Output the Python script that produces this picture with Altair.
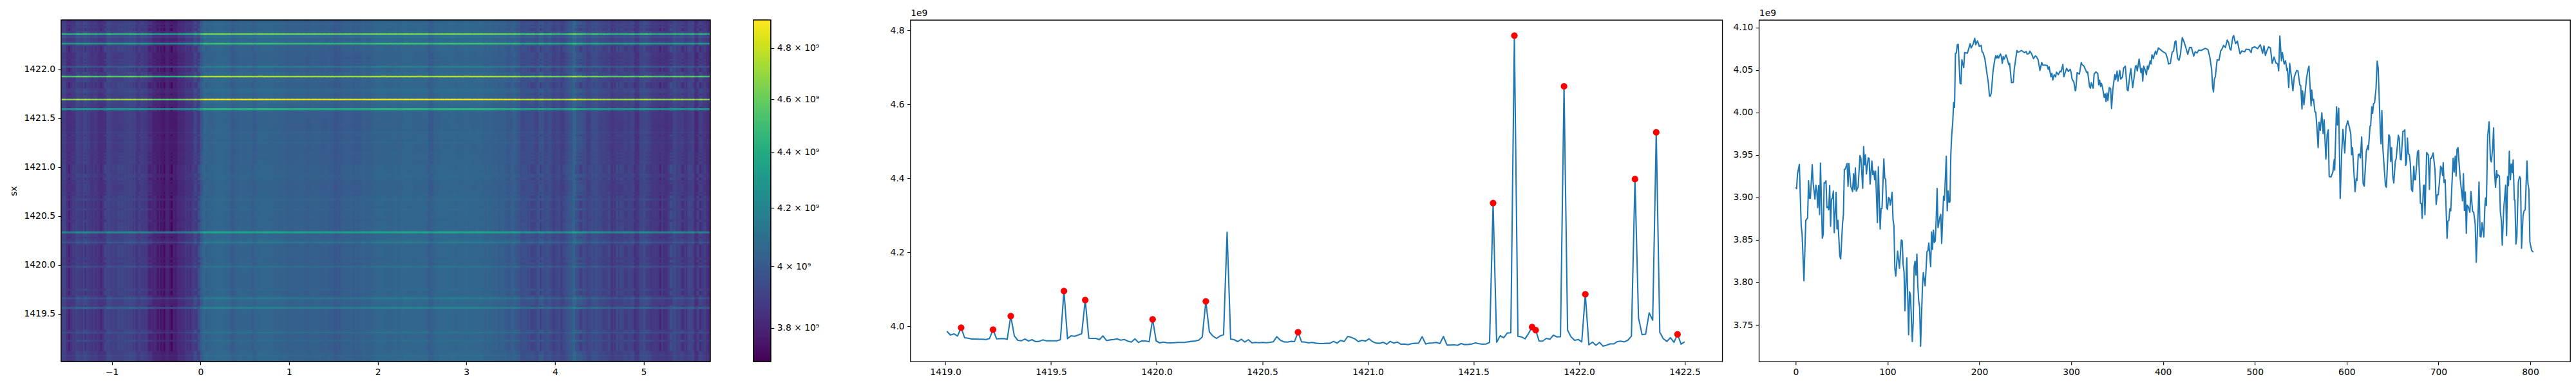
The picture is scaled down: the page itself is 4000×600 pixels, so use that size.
import altair as alt
import numpy as np
import pandas as pd

alt.data_transformers.disable_max_rows()

FONT = "DejaVu Sans"
FS = 13.9

# mean profile against column index (third panel), values in units of 1e9
column_profile = [
(0,3.912),(1,3.9105),(2,3.928),(4,3.939),(6,3.8666),(7,3.8565),(9,3.802),(11,3.873),(13,3.876),(14,3.9196),(15,3.899),(16,3.899),(18,3.9385),(19,3.917),(21,3.898),(22,3.9145),(23,3.908),(24,3.888),(25,3.914),(26,3.880),(27,3.9405),(29,3.852),(30,3.8565),(31,3.9175),(32,3.917),(33,3.9196),(34,3.888),(35,3.889),(36,3.8855),(37,3.914),(38,3.866),(39,3.898),(40,3.899),(41,3.9075),(42,3.8585),(44,3.906),(45,3.863),(46,3.873),(48,3.831),(49,3.8277),(51,3.869),(52,3.880),(53,3.933),(54,3.9335),(56,3.940),(57,3.913),(58,3.940),(60,3.913),(62,3.907),(63,3.928),(64,3.9095),(65,3.9347),(66,3.9075),(68,3.9125),(70,3.9493),(71,3.946),(73,3.9107),(74,3.96),(75,3.9385),(76,3.950),(77,3.9276),(79,3.9466),(80,3.946),(81,3.9158),(83,3.9428),(84,3.927),(85,3.931),(86,3.9208),(87,3.931),(89,3.8704),(90,3.936),(92,3.8628),(93,3.887),(94,3.887),(96,3.9453),(97,3.9226),(98,3.9216),(99,3.888),(100,3.886),(101,3.90),(102,3.899),(103,3.891),(105,3.906),(106,3.874),(107,3.8666),(108,3.816),(109,3.8075),(111,3.8368),(113,3.8166),(115,3.85),(116,3.849),(117,3.821),(118,3.8123),(119,3.7667),(121,3.8287),(123,3.7384),(124,3.7889),(125,3.7846),(127,3.7303),(128,3.753),(129,3.8186),(130,3.825),(131,3.8085),(132,3.8333),(133,3.796),(134,3.778),(135,3.7707),(136,3.7248),(138,3.7934),(139,3.8116),(141,3.796),(143,3.8363),(144,3.8373),(145,3.8464),(147,3.8186),(148,3.8595),(149,3.8388),(150,3.8615),(151,3.847),(152,3.849),(153,3.874),(154,3.9105),(155,3.8645),(157,3.8767),(158,3.880),(159,3.8459),(161,3.9014),(162,3.8969),(164,3.9486),(165,3.8842),(166,3.9075),(167,3.8943),(168,3.8948),(169,3.9524),(170,3.975),
(171,3.9877),(172,4.0117),(173,4.0059),(174,4.0697),(175,4.070),(176,4.0798),(177,4.0803),(179,4.0344),(180,4.0336),(181,4.0621),(183,4.0528),(184,4.0705),(187,4.0697),(190,4.081),(191,4.076),(193,4.0798),(195,4.0874),(196,4.0798),(198,4.0843),(200,4.0778),(202,4.079),(203,4.0715),(204,4.0705),(206,4.0634),(208,4.0483),(210,4.0331),(211,4.0192),(212,4.0192),(213,4.023),(215,4.0495),(217,4.0634),(218,4.0669),(219,4.0639),(220,4.0669),(221,4.0641),(223,4.0689),(224,4.0659),(225,4.0578),(226,4.0659),(227,4.0629),(229,4.0679),(230,4.0646),(232,4.0563),(233,4.0578),(235,4.0351),(237,4.0356),(238,4.0508),(240,4.0659),(241,4.073),(242,4.071),(244,4.0717),(246,4.073),(249,4.0705),(251,4.0717),(252,4.0689),(254,4.0694),(255,4.0722),(257,4.0689),(259,4.0634),(261,4.0667),(262,4.0659),(264,4.0621),(266,4.0495),(268,4.0589),(269,4.0558),(272,4.0558),(274,4.0551),(275,4.0508),(276,4.0538),(278,4.0419),(279,4.0462),(280,4.0382),(281.5,4.0445),(283,4.0419),(284,4.0475),(286,4.0445),(288,4.0488),(289,4.0478),(291,4.0566),(292,4.0419),(295,4.052),(297,4.0483),(299,4.0508),(300,4.047),(301,4.0394),(303,4.0356),(304.5,4.0255),(305,4.026),(306.5,4.047),(309,4.0452),(311,4.0589),(312,4.0563),(314,4.0546),(317,4.047),(318,4.0478),(320,4.0306),(321,4.0286),(322,4.0351),(324,4.0286),(325,4.0452),(327,4.0478),(329,4.0457),(330,4.0326),(331,4.0382),(332,4.0306),(333,4.0344),(334,4.0301),(336,4.018),(337,4.0218),(338,4.0129),(339,4.023),(340,4.0142),(341.5,4.0293),(343,4.0281),(344,4.0046),(345.5,4.0281),(347.5,4.0445),(348.5,4.0387),(350,4.0488),(351,4.0369),(353,4.0495),(354,4.0394),(356,4.0419),(357,4.052),(359,4.0546),(361,4.0268),(362,4.0255),(364,4.0445),(365,4.0515),(367,4.0293),(368.5,4.0407),(370,4.0546),(371,4.0551),(372,4.0488),(374,4.0629),(376,4.047),(377,4.052),(378,4.0369),(379,4.0546),(380,4.052),(382,4.0445),(383,4.0546),(384,4.0508),(386,4.0609),(387,4.0571),(388,4.0679),(389.5,4.0634),(391,4.0697),(392,4.0722),(393,4.0684),(395,4.076),(397,4.0742),(400,4.0715),(403,4.0697),(405,4.0634),(406,4.0571),(408,4.0578),(410,4.071),(411.5,4.0722),(413,4.0831),(414,4.0843),(416,4.0634),(417.5,4.0614),(419,4.0684),(421,4.0881),(423,4.0831),(425,4.076),(427,4.0684),(429,4.0765),(431,4.0765),(432,4.0722),(433.5,4.0664),
(435,4.0715),(437,4.07),(439,4.0735),(441.5,4.073),(446,4.0755),(449,4.074),(451,4.0654),(453,4.0508),(454,4.0306),(455,4.0243),(456,4.0394),(457,4.0419),(459,4.0621),(461,4.0614),(463,4.073),(464,4.074),(466,4.079),(468,4.0765),(470,4.0853),(471.5,4.0823),(473,4.0747),(474,4.0735),(476,4.0886),(477,4.0906),(479,4.0811),(481,4.0841),(483,4.0735),(484,4.069),(486,4.0725),(489,4.0715),(490.5,4.0745),(494,4.074),(496,4.0705),(497,4.076),(500,4.0773),(503,4.0752),(506,4.0798),(508.5,4.0697),(510,4.0785),(511.5,4.0672),(513,4.0722),(515,4.0773),(517,4.076),(519,4.0578),(521,4.0654),(523,4.0584),(525,4.0571),(526,4.049),(527.3,4.0899),(529,4.0609),(530,4.0705),(532,4.0571),(533.5,4.0609),(535,4.0495),(535.5,4.052),(537,4.0293),(538,4.0578),(540,4.0407),(541.5,4.0255),(543,4.0419),(545.6,4.0495),(547,4.049),(549,4.0326),(550,4.0318),(551.4,4.0041),(552,4.0255),(553.5,4.0091),(556.4,4.0407),(558,4.0508),(559,4.0546),(561.3,4.0079),(562,4.0263),(563,4.0142),(564,4.0155),(565.5,4.0008),(566.4,4.0003),(567.6,3.9827),(569,3.9587),(570,3.9885),(571.3,3.9789),(573,3.9996),(574.4,3.9751),(575.5,3.9915),(577.4,3.9453),(578.8,3.9738),(580,3.9796),(581,3.9246),(583,3.9241),(585,3.9297),(586.5,3.9448),(587,3.9322),(589,4.0066),(590,3.9852),(591.4,4.0049),(593,3.8989),(594.7,3.9549),(596,3.9801),(598,3.9524),(599.4,3.9839),(600,3.9847),(601.2,3.9902),(603,3.9827),(604.5,3.9751),(605.4,3.9504),(606.4,3.9587),(607.8,3.9322),(609.2,3.9069),(610.4,3.9221),(611.3,3.92),(612.7,3.9506),(613.8,3.9511),(615,3.9466),(616.4,3.9713),(618,3.9158),(619.2,3.9133),(621.5,3.9549),(623.2,3.9612),(623.7,3.9562),(625.5,3.9839),(626.2,3.9844),(627.4,4.0066),(628.3,3.999),(629.3,4.0104),(630.5,4.0117),(632,4.0281),(633.3,4.0604),(634.4,4.052),(636.8,3.9751),(637.5,3.963),(638.4,4.0023),
(639.5,3.9574),(642.3,3.914),(643.3,3.912),(646,3.9738),(647,3.9713),(648,3.9423),(649,3.9587),(650.3,3.9246),(651.4,3.917),(653,3.9423),(654,3.946),(656.3,3.9731),(657.3,3.97),(658.5,3.9448),(659.4,3.9443),(661.3,3.9776),(662.4,3.9781),(663.4,3.9796),(664.3,3.9377),(665.2,3.941),(666.2,3.97),(667.3,3.9511),(668.3,3.9504),(669.4,3.9398),(670.6,3.9095),(671.8,3.907),(673.2,3.9367),(674,3.9208),(675,3.9208),(677.2,3.9536),(678.3,3.9554),(680.4,3.8931),(681.4,3.8931),(682.3,3.8754),(683.7,3.914),(684.6,3.9145),(685.3,3.8797),(687.2,3.9529),(689,3.9498),(690.2,3.9095),(691.2,3.9461),(692.3,3.9461),(694.2,3.9524),(696.3,3.9322),(697.5,3.8918),(698.7,3.9032),(699.8,3.9032),(701,3.917),(702.4,3.9367),(703.6,3.9342),(704.5,3.9259),(705.2,3.941),(706.1,3.9176),(707.3,3.9208),(709.4,3.8519),(710.3,3.8721),(711.3,3.8726),(712.5,3.8868),(713.4,3.8842),(716,3.9461),(717.1,3.9297),(718.3,3.9486),(719.2,3.9251),(720.2,3.9562),(721.3,3.9587),(723.7,3.9221),(726.2,3.8961),(727.2,3.9279),(728.3,3.8847),(729.3,3.9064),(730.4,3.8577),(731.2,3.891),(732.5,3.8893),(734.2,3.8825),(735.4,3.907),(737.2,3.8837),(738.4,3.8825),(740,3.8691),(741.2,3.8237),(743.5,3.8918),(744.2,3.9181),(745.4,3.854),(746.4,3.8535),(747.5,3.8704),(749.4,3.8535),(750.6,3.8906),(751.3,3.8994),(752.2,3.8906),(753.6,3.9726),(755.2,3.989),(756.6,3.9448),(757.6,3.9418),(759,3.9574),(760.1,3.9819),(761,3.9309),(762.2,3.912),(763.4,3.9317),(764.1,3.9234),(764.8,3.9266),(766.4,3.9251),(767.4,3.8842),(768.6,3.8716),(769.5,3.8439),(771.1,3.8868),(773.2,3.9145),(774.2,3.8552),(775.3,3.9246),(776.3,3.914),(777.2,3.9544),(778.4,3.9208),(779.3,3.9393),(780.5,3.9292),(781.4,3.9443),(782.6,3.8974),(783.3,3.8969),(784.4,3.8451),(785.4,3.854),(787,3.9183),(788.4,3.9246),(789.4,3.9221),(790.5,3.8401),(792.2,3.8792),(793.3,3.8842),(794.5,3.8855),(796.4,3.9428),(797.5,3.9158),(798.5,3.9095),(799.6,3.8477),(801.5,3.8376),(803.4,3.8355),
]

# mean profile against sx (second panel), values in units of 1e9, one per row
row_values = [
3.9866,3.9768,3.9797,3.9739,3.9965,
3.9692,3.968,3.9657,3.9657,3.9652,3.9652,3.9646,3.9669,3.9912,
3.9663,3.9669,3.9669,3.9652,4.0278,
3.9744,3.9623,3.9611,3.9657,3.9605,3.964,3.9588,3.9594,3.9634,3.9611,3.9611,3.9611,3.9611,3.964,4.0956,
3.9669,3.9744,3.9733,3.9768,3.9802,4.0712,
3.968,3.9675,3.9675,3.964,3.9744,3.9617,3.9634,3.9646,3.9663,3.9628,3.9646,3.96,3.9576,3.9663,3.9565,3.9611,3.9605,3.9582,4.0191,
3.9605,3.9553,3.9576,3.9559,3.9553,3.9559,3.9565,3.9565,3.9565,3.9582,3.9594,3.9605,3.9628,3.9715,4.0678,
3.9849,3.9739,3.9675,3.9739,3.9773,4.2549,
3.9657,3.964,3.9588,3.9652,3.9576,3.964,3.9553,3.9565,3.9559,3.9565,3.9559,
3.9565,3.9582,3.9721,3.9628,3.9582,3.9576,3.9594,3.9588,3.9843,
3.9582,3.9576,3.9553,3.9565,3.9547,3.9536,3.9536,3.9542,3.9542,3.9594,3.9547,3.9623,3.9588,3.9727,3.9704,3.9663,3.9588,3.9623,3.96,3.9663,
3.9588,3.9547,3.9542,3.957,3.9518,3.9594,3.9547,3.9576,3.9518,3.9524,3.9507,3.953,3.9542,3.9547,3.9721,3.9524,3.9547,3.9553,3.9565,3.9536,
3.9727,3.9495,3.9495,3.9501,3.9489,3.9536,3.9507,3.9512,3.9524,3.9553,3.953,3.9518,3.9524,3.9565,4.3334,
3.957,3.9744,3.9692,3.982,3.9826,4.786,
3.9733,3.9715,3.9663,3.9808,3.9982,3.99,3.96,3.9605,3.9675,3.9652,3.9762,3.9715,3.9721,4.6489,
3.9895,3.9715,3.9623,3.9646,3.9582,4.0869,
3.9501,3.9574,3.9488,3.9567,3.9468,3.9494,3.9527,3.9527,3.9587,3.9601,3.9581,3.9627,3.9734,4.398,
4.0233,3.9774,3.9787,4.0366,4.0166,4.5245,
3.984,3.9667,3.9594,3.9694,3.9567,3.9787,3.9521,3.9581,
]
peak_rows = [4, 13, 18, 33, 39, 58, 73, 99, 154, 160, 165, 166, 174, 180, 194, 200, 206]

sx_start = 1419.007
sx_step = 0.016792
pos_start = -1.5715
pos_step = 7.3215 / 804

heat_x_domain = [-1.5715, 5.75]
heat_y_domain = [1419.012, 1422.505]
color_domain = [3.695, 4.914]
color_ticks = [3.8, 4.0, 4.2, 4.4, 4.6, 4.8]

line_x_domain = [1418.834, 1422.678]
line_y_domain = [3.905, 4.8283]
mean_x_domain = [-40, 843.5]
mean_y_domain = [3.7069, 4.1089]

rows = pd.DataFrame({"row": np.arange(len(row_values)), "value": row_values})
rows["sx"] = sx_start + rows["row"] * sx_step
peaks = rows[rows["row"].isin(peak_rows)]

cols = pd.DataFrame(column_profile, columns=["index", "value"]).sort_values("index")
cols["pos"] = pos_start + cols["index"] * pos_step
cols["pos_end"] = cols["pos"].shift(-1).fillna(heat_x_domain[1]) + 0.012

row_mean = float(np.mean(row_values))
row_base = float(np.median(row_values))

base = cols.copy()
base["v"] = base["value"] * row_base / row_mean
base["y0"] = heat_y_domain[0]
base["y1"] = heat_y_domain[1]

# stripes: rows that stand out from the background, on a thinned set of columns
thin = cols.iloc[::4].copy()
thin["pos_end"] = thin["pos"].shift(-1).fillna(heat_x_domain[1]) + 0.012
recs = []
for r, val in zip(rows["row"], rows["value"]):
    if abs(val - row_base) < 0.006:
        continue
    sx = sx_start + r * sx_step
    half = sx_step * 0.65
    for p, pe, cv in zip(thin["pos"], thin["pos_end"], thin["value"]):
        recs.append((p, pe, sx - half, sx + half, cv * val / row_mean))
stripes = pd.DataFrame(recs, columns=["pos", "pos_end", "y0", "y1", "v"])

# colour bar levels
bar_edges = np.geomspace(color_domain[0], color_domain[1], 201)
bar = pd.DataFrame({"lo": bar_edges[:-1], "hi": bar_edges[1:] * 1.001})
bar["v"] = np.sqrt(bar_edges[:-1] * bar_edges[1:])

axis_common = dict(
    grid=False, labelFont=FONT, labelFontSize=FS, labelColor="black",
    tickColor="black", tickSize=5, tickWidth=1.1, domain=False,
    labelPadding=4.5, titleFont=FONT, titleFontSize=FS, titleColor="black",
    titleFontWeight="normal", labelFlush=False, labelOverlap=False,
)

color = alt.Color(
    "v:Q",
    scale=alt.Scale(type="log", domain=color_domain, scheme="viridis", nice=False),
    legend=None,
)
hx = alt.X(
    "pos:Q", scale=alt.Scale(domain=heat_x_domain, nice=False, zero=False),
    axis=alt.Axis(values=list(range(-1, 6)), format="d", title=None,
                  labelExpr="replace(datum.label, '-', '−')", **axis_common),
)
hy = alt.Y(
    "y0:Q", scale=alt.Scale(domain=heat_y_domain, nice=False, zero=False),
    axis=alt.Axis(values=[1419.5, 1420.0, 1420.5, 1421.0, 1421.5, 1422.0], format=".1f",
                  title="sx", titlePadding=8, **axis_common),
)
heat_base = alt.Chart(base).mark_rect(clip=True, strokeWidth=0).encode(
    x=hx, x2="pos_end:Q", y=hy, y2="y1:Q", color=color)
heat_rows = alt.Chart(stripes).mark_rect(clip=True, strokeWidth=0).encode(
    x=hx, x2="pos_end:Q", y=hy, y2="y1:Q", color=color)
frame = alt.Chart(pd.DataFrame({
    "pos": [heat_x_domain[0]], "pos_end": [heat_x_domain[1]],
    "y0": [heat_y_domain[0]], "y1": [heat_y_domain[1]],
})).mark_rect(filled=False, stroke="black", strokeWidth=1.3).encode(
    x=hx, x2="pos_end:Q", y=hy, y2="y1:Q")
p1 = (heat_base + heat_rows + frame).properties(width=1008, height=531)

by = alt.Y(
    "lo:Q", scale=alt.Scale(type="log", domain=color_domain, nice=False, zero=False),
    axis=alt.Axis(values=color_ticks, orient="right", title=None,
                  labelExpr="(datum.value == 4 ? '4' : format(datum.value, '.1f')) + ' × 10⁹'",
                  **axis_common),
)
bar_rects = alt.Chart(bar).mark_rect(clip=True, strokeWidth=0).encode(y=by, y2="hi:Q", color=color)
bar_frame = alt.Chart(pd.DataFrame({"lo": [color_domain[0]], "hi": [color_domain[1]]})).mark_rect(
    filled=False, stroke="black", strokeWidth=1.3).encode(y=by, y2="hi:Q")
cb = (bar_rects + bar_frame).properties(width=27, height=531)

offset_title = dict(title="1e9", titleAngle=0, titleX=0, titleY=-4, titleAlign="left",
                    titleBaseline="bottom")

x2 = alt.X("sx:Q", scale=alt.Scale(domain=line_x_domain, nice=False, zero=False),
           axis=alt.Axis(values=[1419.0, 1419.5, 1420.0, 1420.5, 1421.0, 1421.5, 1422.0, 1422.5],
                         format=".1f", title=None, **axis_common))
y2 = alt.Y("value:Q", scale=alt.Scale(domain=line_y_domain, nice=False, zero=False),
           axis=alt.Axis(values=[4.0, 4.2, 4.4, 4.6, 4.8], format=".1f", **offset_title, **axis_common))
p2_line = alt.Chart(rows).mark_line(color="#1f77b4", strokeWidth=2.08, strokeJoin="round").encode(x=x2, y=y2)
p2_pts = alt.Chart(peaks).mark_point(filled=True, color="#ff0000", size=105, opacity=1).encode(x=x2, y=y2)
p2 = (p2_line + p2_pts).properties(width=1261, height=531)

x3 = alt.X("index:Q", scale=alt.Scale(domain=mean_x_domain, nice=False, zero=False),
           axis=alt.Axis(values=list(range(0, 900, 100)), format="d", title=None, **axis_common))
y3 = alt.Y("value:Q", scale=alt.Scale(domain=mean_y_domain, nice=False, zero=False),
           axis=alt.Axis(values=[3.75, 3.80, 3.85, 3.90, 3.95, 4.00, 4.05, 4.10], format=".2f",
                         **offset_title, **axis_common))
p3 = alt.Chart(cols).mark_line(color="#1f77b4", strokeWidth=2.08, strokeJoin="round").encode(x=x3, y=y3)
p3 = p3.properties(width=1260, height=531)

left = alt.hconcat(p1, cb, spacing=63)
right = alt.hconcat(p2, p3, spacing=14)
chart = alt.hconcat(left, right, spacing=108).properties(
    padding={"left": 6, "top": 4, "right": 0, "bottom": 0},
    background="white",
).configure_view(stroke="black", strokeWidth=1.3)

chart.save("out.html", embed_options={"renderer": "svg", "actions": False})
